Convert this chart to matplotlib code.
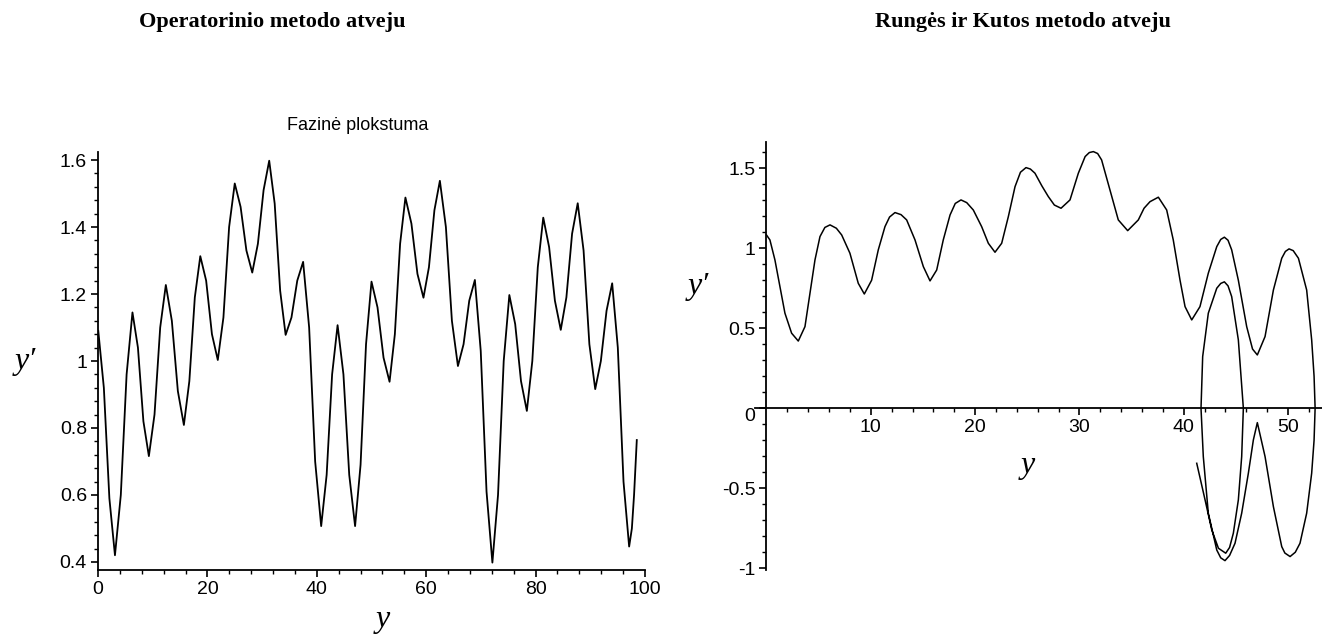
import matplotlib
matplotlib.use("Agg")
import matplotlib.pyplot as plt
from matplotlib.ticker import FixedLocator, MultipleLocator

# phase plane data: y on the x axis, y' on the vertical axis
left_y = [0.05, 1.07, 2.08, 3.1, 4.17, 5.23, 6.3, 7.3, 8.3, 9.3, 10.33, 11.37, 12.4,
          13.5, 14.6, 15.7, 16.7, 17.7, 18.7, 19.77, 20.83, 21.9, 22.93, 23.97, 25.0,
          26.07, 27.13, 28.2, 29.23, 30.27, 31.3, 32.3, 33.3, 34.3, 35.37, 36.43, 37.5,
          38.6, 39.7, 40.8, 41.8, 42.8, 43.8, 44.87, 45.93, 47.0, 48.0, 49.0, 50.0,
          51.1, 52.2, 53.3, 54.27, 55.23, 56.2, 57.3, 58.4, 59.5, 60.5, 61.5, 62.5,
          63.6, 64.7, 65.8, 66.83, 67.87, 68.9, 69.97, 71.03, 72.1, 73.13, 74.17, 75.2,
          76.27, 77.33, 78.4, 79.4, 80.4, 81.4, 82.47, 83.53, 84.6, 85.63, 86.67, 87.7,
          88.77, 89.83, 90.9, 91.93, 92.97, 94.0, 95.03, 96.07, 97.1, 97.6, 98.0, 98.5]
left_yp = [1.09, 0.92, 0.59, 0.42, 0.60, 0.96, 1.145, 1.04, 0.82, 0.716, 0.84, 1.10, 1.227,
           1.12, 0.91, 0.809, 0.94, 1.19, 1.313, 1.24, 1.08, 1.003, 1.13, 1.40, 1.530,
           1.46, 1.33, 1.264, 1.35, 1.51, 1.598, 1.47, 1.21, 1.078, 1.13, 1.24, 1.296,
           1.10, 0.70, 0.507, 0.66, 0.96, 1.107, 0.96, 0.66, 0.507, 0.69, 1.05, 1.237,
           1.16, 1.01, 0.938, 1.08, 1.35, 1.488, 1.41, 1.26, 1.189, 1.28, 1.45, 1.538,
           1.40, 1.12, 0.985, 1.05, 1.18, 1.242, 1.03, 0.61, 0.398, 0.60, 1.00, 1.197,
           1.11, 0.94, 0.851, 1.00, 1.28, 1.428, 1.34, 1.18, 1.093, 1.19, 1.38, 1.471,
           1.33, 1.05, 0.916, 1.00, 1.15, 1.232, 1.04, 0.64, 0.446, 0.50, 0.60, 0.764]

right_y = [0.0, 0.33, 0.81, 1.29, 1.77, 2.41, 3.05, 3.69, 4.17, 4.65, 5.13, 5.6, 6.09, 6.7, 7.21,
           8.0, 8.8, 9.38, 10.08, 10.72, 11.36, 11.8, 12.32, 12.9, 13.44, 14.24, 15.04, 15.68,
           16.32, 16.95, 17.6, 18.1, 18.65, 19.2, 19.83, 20.63, 21.27, 21.91, 22.55, 23.19,
           23.83, 24.35, 24.88, 25.3, 25.74, 26.4, 27.02, 27.6, 28.24, 29.1, 29.9, 30.55,
           30.95, 31.34, 31.75, 32.13, 32.93, 33.73, 34.63, 35.65, 36.2, 36.77, 37.57, 38.37,
           39.0, 39.65, 40.13, 40.77, 41.56, 42.36, 43.17, 43.55, 43.9, 44.25, 44.6, 45.24,
           46.04, 46.6, 47.06, 47.8, 48.6, 49.4, 49.75, 50.1, 50.5, 51.0, 51.79, 52.27, 52.5,
           52.6, 52.5, 52.27, 51.79, 51.15, 50.7, 50.2, 49.7, 49.4, 48.6, 47.8, 47.06, 46.68,
           46.2, 45.56, 44.92, 44.4, 43.96, 43.55, 43.17, 42.36, 41.88, 41.66, 41.82, 42.36,
           43.17, 43.55, 43.9, 44.25, 44.6, 45.24, 45.72, 45.56, 45.24, 44.76, 44.4, 44.03,
           43.33, 42.69, 42.05, 41.25]
right_yp = [1.083, 1.052, 0.927, 0.76, 0.594, 0.469, 0.42, 0.51, 0.719, 0.927, 1.073, 1.13, 1.146,
            1.125, 1.083, 0.969, 0.781, 0.714, 0.80, 0.99, 1.135, 1.195, 1.223, 1.21, 1.177,
            1.052, 0.885, 0.796, 0.864, 1.052, 1.208, 1.28, 1.302, 1.285, 1.239, 1.135, 1.031,
            0.975, 1.031, 1.198, 1.385, 1.475, 1.504, 1.495, 1.469, 1.39, 1.323, 1.27, 1.25,
            1.302, 1.469, 1.573, 1.598, 1.604, 1.592, 1.552, 1.364, 1.177, 1.11, 1.177, 1.25,
            1.291, 1.319, 1.239, 1.052, 0.80, 0.635, 0.552, 0.635, 0.844, 1.01, 1.055, 1.069,
            1.05, 0.99, 0.80, 0.51, 0.37, 0.333, 0.448, 0.739, 0.9375, 0.98, 0.996, 0.985,
            0.9375, 0.739, 0.427, 0.2, 0.0, -0.2, -0.406, -0.656, -0.844, -0.9, -0.927, -0.905,
            -0.865, -0.615, -0.302, -0.09, -0.198, -0.406, -0.656, -0.844, -0.92, -0.9525,
            -0.935, -0.886, -0.656, -0.302, 0.0, 0.323, 0.594, 0.75, 0.78, 0.79, 0.765, 0.698,
            0.427, 0.0, -0.302, -0.573, -0.781, -0.87, -0.906, -0.875, -0.76, -0.573, -0.344]

left_xticks = [0, 20, 40, 60, 80, 100]
left_yticks = [0.4, 0.6, 0.8, 1.0, 1.2, 1.4, 1.6]
left_ylabels = ["0.4", "0.6", "0.8", "1", "1.2", "1.4", "1.6"]
right_xticks = [10, 20, 30, 40, 50]
right_yticks = [-1, -0.5, 0, 0.5, 1, 1.5]
right_ylabels = ["-1", "-0.5", "0", "0.5", "1", "1.5"]

W, H = 1322, 637
plt.rcParams["font.family"] = ["Liberation Sans", "DejaVu Sans"]
plt.rcParams["mathtext.fontset"] = "stix"
SERIF = ["Liberation Serif", "DejaVu Serif"]

fig = plt.figure(figsize=(W / 100, H / 100), dpi=100)


def px_rect(x0, y0, x1, y1):
    # pixel box (top-left origin) -> figure fraction
    return [x0 / W, 1 - y1 / H, (x1 - x0) / W, (y1 - y0) / H]


def style_axes(ax):
    for s in ["top", "right"]:
        ax.spines[s].set_visible(False)
    for s in ["left", "bottom"]:
        ax.spines[s].set_linewidth(1.3)
    ax.tick_params(which="major", direction="out", length=5, width=1.2,
                   labelsize=14, pad=3, colors="black")
    ax.tick_params(which="minor", direction="out", length=3, width=1.0)


# left: operator method
ax1 = fig.add_axes(px_rect(98, 152, 645, 570))
ax1.plot(left_y, left_yp, color="black", lw=1.3)
ax1.set_xlim(0, 100)
ax1.set_ylim(0.376, 1.624)
style_axes(ax1)
ax1.xaxis.set_major_locator(FixedLocator(left_xticks))
ax1.xaxis.set_minor_locator(MultipleLocator(4))
ax1.yaxis.set_major_locator(FixedLocator(left_yticks))
ax1.set_yticklabels(left_ylabels)
ax1.yaxis.set_minor_locator(MultipleLocator(0.04))

# right: Runge-Kutta
ax2 = fig.add_axes(px_rect(755, 142, 1322, 570))
ax2.plot(right_y, right_yp, color="black", lw=1.1)
ax2.set_xlim(-1.1, 53.26)
ax2.set_ylim(-1.011, 1.664)
style_axes(ax2)
ax2.spines["left"].set_position(("data", 0))
ax2.spines["bottom"].set_position(("data", 0))
ax2.xaxis.set_major_locator(FixedLocator(right_xticks))
ax2.xaxis.set_minor_locator(FixedLocator([t for t in range(2, 54, 2) if t % 10]))
ax2.yaxis.set_major_locator(FixedLocator(right_yticks))
ax2.set_yticklabels(right_ylabels)
ax2.yaxis.set_minor_locator(MultipleLocator(0.1))
for tick in ax2.yaxis.get_major_ticks():
    if tick.label1.get_text() == "0":
        tick.label1.set_va("top")

# headings and labels
fig.text(272 / W, 1 - 22 / H, "Operatorinio metodo atveju", ha="center", va="center",
         fontsize=16, fontweight="bold", family=SERIF)
fig.text(1023 / W, 1 - 22 / H, "Rungės ir Kutos metodo atveju", ha="center", va="center",
         fontsize=16, fontweight="bold", family=SERIF)
fig.text(358 / W, 1 - 126 / H, "Fazinė plokstuma", ha="center", va="center", fontsize=13)

fig.text(25 / W, 1 - 362 / H, "y′", ha="center", va="center", fontsize=23,
         style="italic", family=SERIF)
fig.text(383 / W, 1 - 620 / H, "y", ha="center", va="center", fontsize=23,
         style="italic", family=SERIF)
fig.text(698 / W, 1 - 287 / H, "y′", ha="center", va="center", fontsize=23,
         style="italic", family=SERIF)
fig.text(1028 / W, 1 - 466 / H, "y", ha="center", va="center", fontsize=23,
         style="italic", family=SERIF)

fig.savefig("out.png", dpi=100, facecolor="white")
